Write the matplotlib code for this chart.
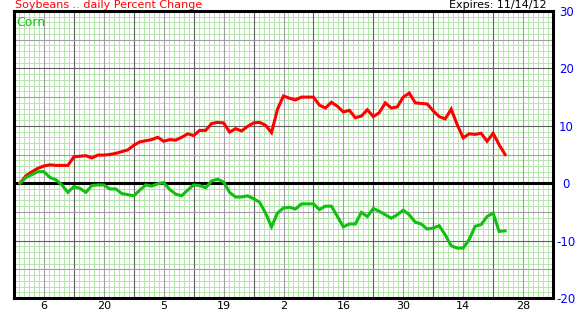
import numpy as np
import matplotlib
matplotlib.use("Agg")
import matplotlib.pyplot as plt

# daily percent change, one value per trading day (day 1 .. 82)
soybeans = [0.0, 1.3, 2.0, 2.6, 3.0, 3.2, 3.1, 3.1, 3.1, 4.6,
            4.7, 4.8, 4.4, 4.9, 4.9, 5.0, 5.2, 5.5, 5.8, 6.6,
            7.2, 7.4, 7.6, 8.0, 7.3, 7.6, 7.5, 8.0, 8.6, 8.3,
            9.2, 9.2, 10.4, 10.6, 10.5, 8.9, 9.5, 9.1, 9.9, 10.5,
            10.6, 10.1, 8.8, 12.9, 15.2, 14.8, 14.5, 15.0, 15.0, 15.0,
            13.6, 13.1, 14.1, 13.4, 12.4, 12.7, 11.4, 11.7, 12.8, 11.6,
            12.3, 14.0, 13.1, 13.3, 15.0, 15.7, 14.0, 13.9, 13.8, 12.6,
            11.6, 11.2, 12.9, 10.2, 7.9, 8.6, 8.5, 8.7, 7.3, 8.7,
            6.7, 5.0]
corn = [0.0, 1.0, 1.5, 2.0, 2.0, 1.0, 0.6, -0.3, -1.6, -0.6,
        -0.9, -1.6, -0.4, -0.3, -0.3, -1.0, -1.0, -1.8, -2.0, -2.2,
        -1.2, -0.3, -0.5, -0.1, 0.1, -1.1, -1.9, -2.2, -1.2, -0.3,
        -0.4, -0.8, 0.4, 0.7, 0.2, -1.6, -2.4, -2.4, -2.2, -2.7,
        -3.3, -5.2, -7.6, -5.2, -4.3, -4.2, -4.5, -3.6, -3.6, -3.6,
        -4.6, -4.0, -4.0, -5.8, -7.6, -7.1, -7.1, -5.1, -5.8, -4.4,
        -4.9, -5.5, -6.1, -5.5, -4.7, -5.5, -6.8, -7.1, -8.0, -7.8,
        -7.4, -9.0, -10.9, -11.3, -11.3, -9.8, -7.5, -7.2, -5.8, -5.2,
        -8.4, -8.3]
date_labels = ['6', '20', '5', '19', '2', '16', '30', '14', '28']
y_labels = [30, 20, 10, 0, -10, -20]

days = np.arange(1, len(soybeans) + 1)

fig = plt.figure(figsize=(5.81, 3.15), dpi=100)
ax = fig.add_axes([14/581, 1 - 298/315, (553 - 14)/581, (298 - 11)/315])
ax.set_xlim(0, 90)
ax.set_ylim(-20, 30)

# graph paper grid
ax.set_xticks(np.arange(0, 90.01, 10/12), minor=True)
ax.set_yticks(np.arange(-20, 31, 1), minor=True)
ax.grid(which='minor', color='#b4e6ac', lw=0.7)
ax.tick_params(which='minor', length=0)
for x in range(5, 90, 10):
    ax.axvline(x, color='#a0a0a0', lw=0.8)
for x in range(10, 90, 10):
    ax.axvline(x, color='#606060', lw=0.8)
for y in [-15, -5, 5, 15, 25]:
    ax.axhline(y, color='#a0a0a0', lw=0.8)
for y in [-10, 10, 20]:
    ax.axhline(y, color='#606060', lw=0.8)
ax.axhline(0, color='black', lw=2.2)

ax.plot(days, soybeans, color='#ff0000', lw=2.2, solid_joinstyle='miter')
ax.plot(days, corn, color='#10c010', lw=2.2, solid_joinstyle='miter')

ax.set_xticks(np.arange(5, 90, 10))
ax.set_xticklabels(date_labels, fontsize=8)
ax.yaxis.tick_right()
ax.set_yticks(y_labels)
ax.set_yticklabels([str(v) for v in y_labels], fontsize=8.5, color='#0000ff')
ax.tick_params(axis='x', length=0, pad=2)
ax.tick_params(axis='y', length=0, pad=9.5)
for lab in ax.get_yticklabels():
    lab.set_ha('center')

for s in ax.spines.values():
    s.set_linewidth(2.2)
    s.set_color('black')

fig.text(15/581, 1 - 0.5/315, 'Soybeans .. daily Percent Change', color='#ff0000',
         fontsize=8, va='top', ha='left')
fig.text(547/581, 1 - 0.5/315, 'Expires: 11/14/12', color='black',
         fontsize=8, va='top', ha='right')
fig.text(16/581, 1 - 26/315, 'Corn', color='#10c010', fontsize=9,
         va='baseline', ha='left')

fig.savefig('out.png', dpi=100)
